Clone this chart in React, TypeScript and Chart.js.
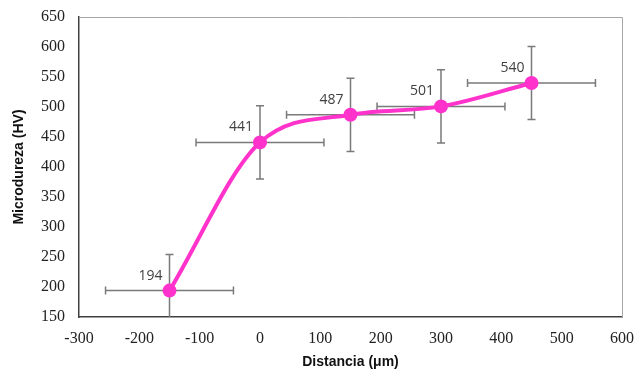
import React, { useEffect, useRef } from "react";
import { Chart, registerables } from "chart.js";

Chart.register(...registerables);

const xValues = [-150, 0, 150, 300, 450];
const yValues = [194, 441, 487, 501, 540];
const xErrors = [106, 106, 106, 106, 106];
const yErrors = [60, 61, 61, 61, 61];
const pointLabels = ["194", "441", "487", "501", "540"];
const xTicks = [-300, -200, -100, 0, 100, 200, 300, 400, 500, 600];
const yTicks = [150, 200, 250, 300, 350, 400, 450, 500, 550, 600, 650];

const errorBarPlugin = {
  id: "errorBars",
  beforeDatasetsDraw(chart: any) {
    const { ctx, chartArea, scales } = chart;
    const xs = scales.x;
    const ys = scales.y;
    ctx.save();
    ctx.beginPath();
    ctx.rect(chartArea.left, chartArea.top, chartArea.right - chartArea.left, chartArea.bottom - chartArea.top);
    ctx.clip();
    ctx.strokeStyle = "#7a7a7a";
    ctx.lineWidth = 1.5;
    const cap = 4;
    xValues.forEach((xv, i) => {
      const yv = yValues[i];
      const px = xs.getPixelForValue(xv);
      const py = ys.getPixelForValue(yv);
      const x1 = xs.getPixelForValue(xv - xErrors[i]);
      const x2 = xs.getPixelForValue(xv + xErrors[i]);
      const y1 = ys.getPixelForValue(yv + yErrors[i]);
      const y2 = ys.getPixelForValue(yv - yErrors[i]);
      ctx.beginPath();
      ctx.moveTo(x1, py);
      ctx.lineTo(x2, py);
      ctx.moveTo(x1, py - cap);
      ctx.lineTo(x1, py + cap);
      ctx.moveTo(x2, py - cap);
      ctx.lineTo(x2, py + cap);
      ctx.moveTo(px, y1);
      ctx.lineTo(px, y2);
      ctx.moveTo(px - cap, y1);
      ctx.lineTo(px + cap, y1);
      ctx.moveTo(px - cap, y2);
      ctx.lineTo(px + cap, y2);
      ctx.stroke();
    });
    ctx.restore();
  },
  afterDatasetsDraw(chart: any) {
    const { ctx } = chart;
    const meta = chart.getDatasetMeta(0);
    ctx.save();
    ctx.font = "14px 'Open Sans', 'Liberation Sans', sans-serif";
    ctx.fillStyle = "#404040";
    ctx.textAlign = "right";
    ctx.textBaseline = "middle";
    meta.data.forEach((pt: any, i: number) => {
      ctx.fillText(pointLabels[i], pt.x - 7, pt.y - 15);
    });
    ctx.restore();
  },
};

const frameBorderPlugin = {
  id: "frameBorder",
  beforeDatasetsDraw(chart: any) {
    const { ctx, chartArea } = chart;
    ctx.save();
    ctx.strokeStyle = "#a6a6a6";
    ctx.lineWidth = 1;
    ctx.beginPath();
    ctx.moveTo(chartArea.left, chartArea.top + 0.5);
    ctx.lineTo(chartArea.right + 0.5, chartArea.top + 0.5);
    ctx.lineTo(chartArea.right + 0.5, chartArea.bottom);
    ctx.stroke();
    ctx.restore();
  },
};

export default function App() {
  const canvasRef = useRef<HTMLCanvasElement>(null);

  useEffect(() => {
    if (!canvasRef.current) return;
    const chart = new Chart(canvasRef.current, {
      type: "line",
      data: {
        datasets: [
          {
            data: xValues.map((x, i) => ({ x, y: yValues[i] })),
            borderColor: "#ff33cc",
            backgroundColor: "#ff33cc",
            borderWidth: 4,
            pointRadius: 7,
            pointBorderWidth: 0,
            pointBackgroundColor: "#ff33cc",
            cubicInterpolationMode: "monotone",
            fill: false,
          },
        ],
      },
      options: {
        animation: false,
        responsive: false,
        maintainAspectRatio: false,
        layout: { padding: { top: 17, right: 12, left: 0, bottom: 0 } },
        plugins: {
          legend: { display: false },
          tooltip: { enabled: false },
        },
        scales: {
          x: {
            type: "linear",
            min: -300,
            max: 600,
            afterBuildTicks: (s: any) => {
              s.ticks = xTicks.map((v) => ({ value: v }));
            },
            afterFit: (s: any) => {
              s.height = 54;
              s.paddingRight = 0;
              s.paddingLeft = 0;
            },
            grid: { display: false, drawTicks: false },
            border: { display: true, color: "#404040", width: 1.5 },
            ticks: {
              color: "#222",
              padding: 12,
              font: { family: "'Liberation Serif', serif", size: 16 },
            },
            title: {
              display: true,
              text: "Distancia (μm)",
              color: "#111",
              padding: { top: 4, bottom: 0 },
              font: { family: "'Liberation Sans', Arial, sans-serif", size: 14, weight: "bold" },
            },
          },
          y: {
            type: "linear",
            min: 150,
            max: 650,
            afterBuildTicks: (s: any) => {
              s.ticks = yTicks.map((v) => ({ value: v }));
            },
            afterFit: (s: any) => {
              s.width = 79;
              s.paddingTop = 0;
              s.paddingBottom = 0;
            },
            grid: { display: false, drawTicks: false },
            border: { display: true, color: "#404040", width: 1.5 },
            ticks: {
              color: "#222",
              padding: 14,
              font: { family: "'Liberation Serif', serif", size: 16 },
            },
            title: {
              display: true,
              text: "Microdureza (HV)",
              color: "#111",
              padding: { top: 11, bottom: 0 },
              font: { family: "'Liberation Sans', Arial, sans-serif", size: 14, weight: "bold" },
            },
          },
        },
      } as any,
      plugins: [errorBarPlugin, frameBorderPlugin],
    });
    return () => chart.destroy();
  }, []);

  return (
    <div style={{ position: "fixed", left: 0, top: 0, width: 634, height: 371, background: "#fff" }}>
      <canvas ref={canvasRef} width={634} height={371} style={{ display: "block" }} />
    </div>
  );
}
